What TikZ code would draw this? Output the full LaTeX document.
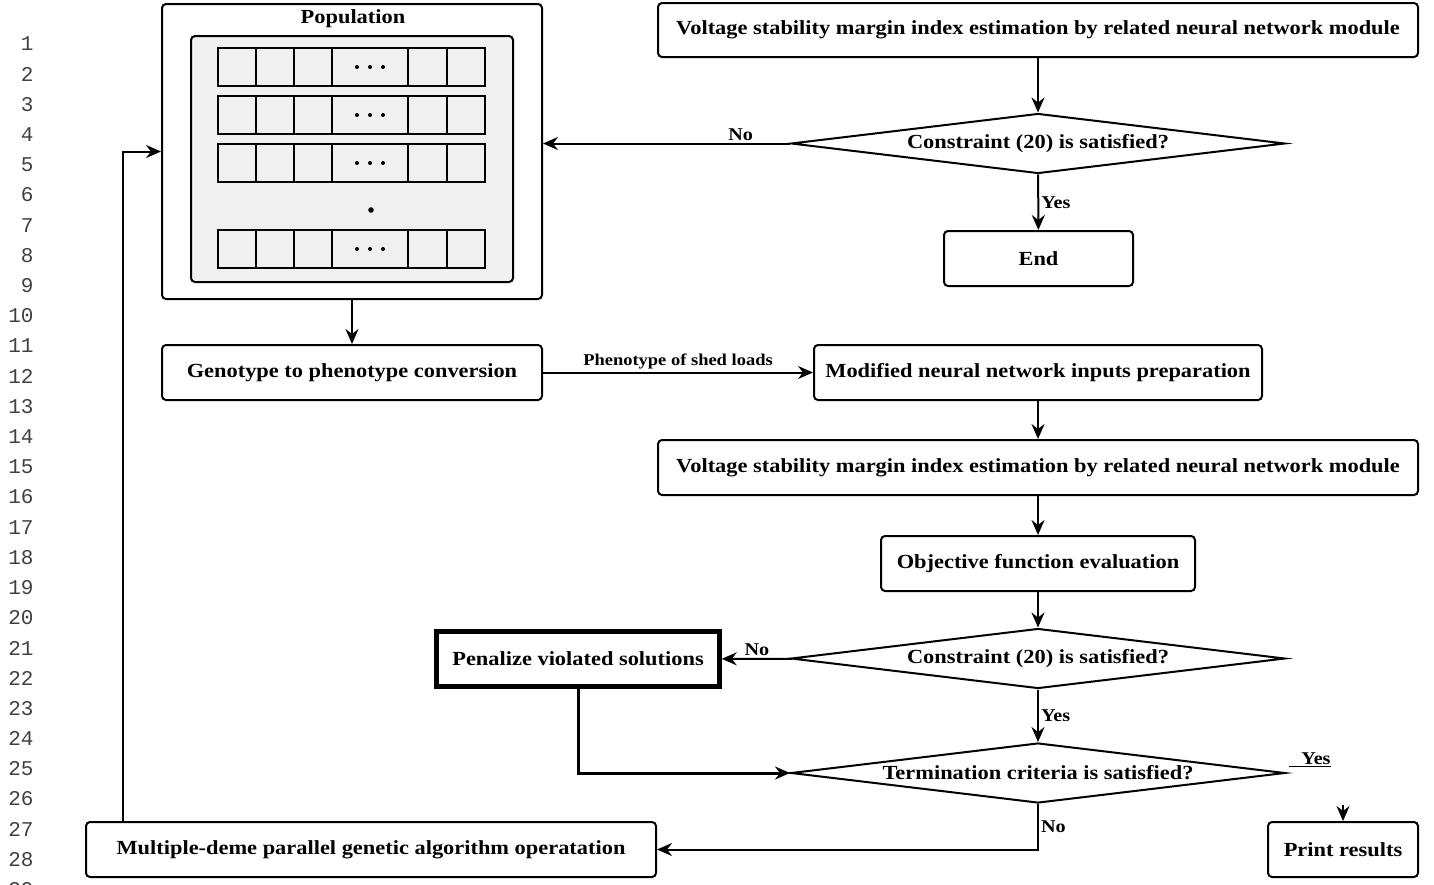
\documentclass[tikz,border=0pt]{standalone}
\usepackage{fontspec}
\setmainfont{Liberation Serif}[FakeStretch=1.12]
\newfontfamily\linenofont{Liberation Mono}
\usetikzlibrary{shapes.geometric,arrows.meta}
\definecolor{popgray}{HTML}{F0F0F0}

\begin{document}
\begin{tikzpicture}[x=1pt,y=-1pt,
  blk/.style={draw,rectangle,rounded corners=4pt,line width=2pt,inner sep=0pt,font=\fontsize{20}{23}\selectfont\bfseries},
  dec/.style={draw,diamond,aspect=8,line width=2pt,inner sep=0pt,minimum width=494pt,minimum height=60pt,font=\fontsize{20}{23}\selectfont\bfseries},
  arr/.style={-{Stealth[length=15pt,width=13pt,inset=5pt]},line width=2pt},
  lbl/.style={font=\fontsize{18}{20}\selectfont\bfseries,inner sep=2pt},
  cell/.style={draw,fill=popgray,line width=2pt}]
\useasboundingbox (0,0) rectangle (1434,884);
% line numbers
\foreach \i in {1,...,29}
  \node [font=\linenofont\fontsize{21}{21}\selectfont,anchor=east,text=black!75] (ln\i) at (37,{44+(\i-1)*30.2}) {\i};
% population
\node [blk,minimum width=380pt,minimum height=295pt] (pop) at (352,151.5) {};
\node [font=\fontsize{20}{23}\selectfont\bfseries] (popt) at (353,19) {Population};
\node [draw,fill=popgray,rounded corners=4pt,line width=2pt,minimum width=322pt,minimum height=246pt] (popin) at (352,159) {};
\foreach \y in {48,96,144,230}{
  \foreach \xa/\xb in {218/256,256/294,294/332,332/408,408/447,447/485}
    \draw [cell] (\xa,\y) rectangle (\xb,\y+38);
  \foreach \xd in {357,370,383}
    \fill (\xd,\y+19) circle (2);
}
\fill (371,210) circle (2.8);
% right column
\node [blk,minimum width=760pt,minimum height=54pt] (vsma) at (1038,30) {Voltage stability margin index estimation by related neural network module};
\node [dec] (cona) at (1038,143.5) {Constraint (20) is satisfied?};
\node [blk,minimum width=189pt,minimum height=55pt] (fin) at (1038.5,258.5) {End};
\node [blk,minimum width=380pt,minimum height=55pt] (geno) at (352,372.5) {Genotype to phenotype conversion};
\node [blk,minimum width=448pt,minimum height=55pt] (mod) at (1038,372.5) {Modified neural network inputs preparation};
\node [blk,minimum width=760pt,minimum height=55pt] (vsmb) at (1038,467.5) {Voltage stability margin index estimation by related neural network module};
\node [blk,minimum width=314pt,minimum height=55pt] (obj) at (1038,563.5) {Objective function evaluation};
\node [dec] (conb) at (1038,658.5) {Constraint (20) is satisfied?};
\node [blk,rounded corners=0pt,line width=4.5pt,minimum width=283pt,minimum height=55pt] (pen) at (578,659) {Penalize violated solutions};
\node [dec] (term) at (1038,773) {Termination criteria is satisfied?};
\node [blk,minimum width=150pt,minimum height=55pt] (prn) at (1343,849.5) {Print results};
\node [blk,minimum width=570pt,minimum height=55pt] (mga) at (371,849.5) {Multiple-deme parallel genetic algorithm operatation};
\coordinate (mgaup) at (123,821);
\coordinate (prnup) at (1343,805);
\node [lbl] (yest) at (1310,760) {\underline{\hspace{12pt}Yes}};

\draw [arr] (vsma) -- (cona);
\draw [arr] (cona.west) -- node[lbl,above,pos=0.2]{No} (cona.west -| pop.east);
\draw [arr] (cona) -- node[lbl,right]{Yes} (fin);
\draw [arr] (pop) -- (geno);
\draw [arr] (geno) -- node[lbl,above,font=\fontsize{16.5}{18}\selectfont\bfseries]{Phenotype of shed loads} (mod);
\draw [arr] (mod) -- (vsmb);
\draw [arr] (vsmb) -- (obj);
\draw [arr] (obj) -- (conb);
\draw [arr] (conb) -- node[lbl,above]{No} (pen);
\draw [arr] (conb) -- node[lbl,right]{Yes} (term);
\draw [arr,line width=3pt] (pen) |- (term);
\draw [arr] (term) |- node[lbl,right,pos=0.25]{No} (mga);
\draw [arr] (mgaup) |- (pop);
\draw [arr] (prnup) -- (prn);
\end{tikzpicture}
\end{document}
